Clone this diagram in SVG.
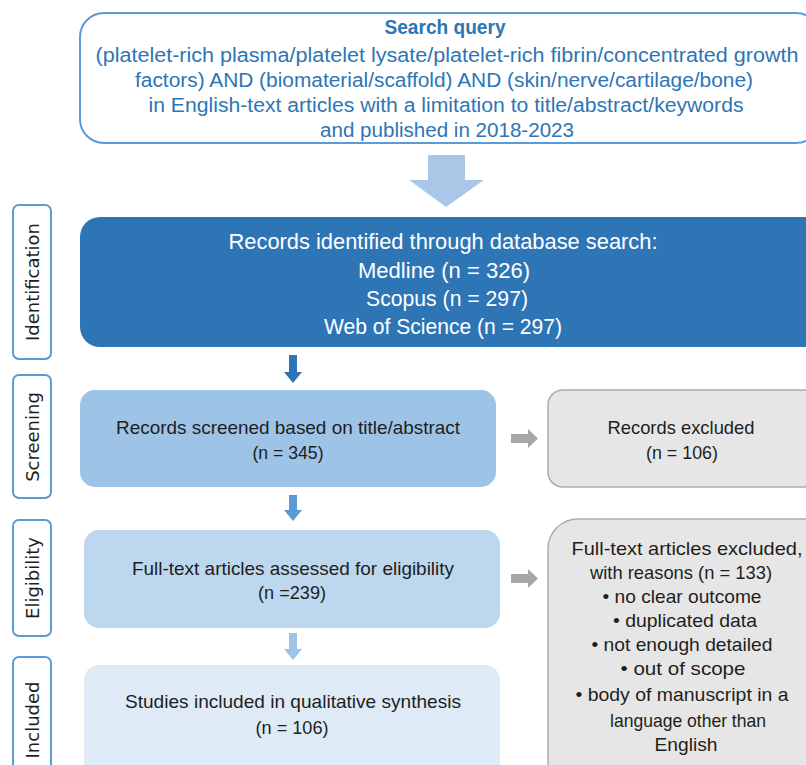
<svg xmlns="http://www.w3.org/2000/svg" width="806" height="765" viewBox="0 0 806 765">
<defs>
<style>
text{font-family:"Liberation Sans",Arial,sans-serif;text-anchor:middle}
.q{fill:#2E75B6;font-size:19.5px}
.w{fill:#ffffff;font-size:21.5px}
.d{fill:#1e1e1e;font-size:18.5px}
.lab{fill:#1e1e1e;font-size:18px;font-family:"DejaVu Sans",Verdana,sans-serif}
.lbox{fill:#ffffff;stroke:#5B9BD5;stroke-width:2}
.gbox{fill:#E7E6E6;stroke:#AEABAB;stroke-width:1.5}
</style>
</defs>
<rect width="806" height="765" fill="#ffffff"/>

<g id="label-identification">
<rect class="lbox" x="13" y="205" width="38" height="154" rx="6"/>
<text class="lab" transform="translate(38.5,282) rotate(-90)">Identification</text>
</g>
<g id="label-screening">
<rect class="lbox" x="13" y="375" width="38" height="123" rx="6"/>
<text class="lab" transform="translate(38.5,437) rotate(-90)">Screening</text>
</g>
<g id="label-eligibility">
<rect class="lbox" x="13" y="520" width="38" height="116" rx="6"/>
<text class="lab" transform="translate(38.5,578) rotate(-90)">Eligibility</text>
</g>
<g id="label-included">
<rect class="lbox" x="13" y="657" width="38" height="130" rx="6"/>
<text class="lab" transform="translate(38.5,720) rotate(-90)">Included</text>
</g>

<g id="search-query">
<rect x="80" y="13" width="740" height="130" rx="24" fill="#ffffff" stroke="#5B9BD5" stroke-width="2"/>
<text class="q" x="445" y="34" font-weight="bold" textLength="121" lengthAdjust="spacingAndGlyphs">Search query</text>
<text class="q" x="447" y="62" textLength="703" lengthAdjust="spacingAndGlyphs">(platelet-rich plasma/platelet lysate/platelet-rich fibrin/concentrated growth</text>
<text class="q" x="444" y="87" textLength="618" lengthAdjust="spacingAndGlyphs">factors) AND (biomaterial/scaffold) AND (skin/nerve/cartilage/bone)</text>
<text class="q" x="446" y="112" textLength="595" lengthAdjust="spacingAndGlyphs">in English-text articles with a limitation to title/abstract/keywords</text>
<text class="q" x="447" y="137" textLength="254" lengthAdjust="spacingAndGlyphs">and published in 2018-2023</text>
</g>

<g id="identification">
<rect x="80" y="217" width="745" height="130" rx="20" fill="#2E75B6"/>
<text class="w" x="443" y="249" textLength="429" lengthAdjust="spacingAndGlyphs">Records identified through database search:</text>
<text class="w" x="444" y="278" textLength="172" lengthAdjust="spacingAndGlyphs">Medline (n = 326)</text>
<text class="w" x="447" y="306" textLength="162" lengthAdjust="spacingAndGlyphs">Scopus (n = 297)</text>
<text class="w" x="443" y="334" textLength="238" lengthAdjust="spacingAndGlyphs">Web of Science (n = 297)</text>
</g>

<g id="screening">
<rect x="80" y="390" width="416" height="97" rx="15" fill="#9DC3E6"/>
<text class="d" x="288" y="434" textLength="344" lengthAdjust="spacingAndGlyphs">Records screened based on title/abstract</text>
<text class="d" x="288" y="459" textLength="71" lengthAdjust="spacingAndGlyphs">(n = 345)</text>
</g>

<g id="records-excluded">
<rect class="gbox" x="548" y="390" width="280" height="97" rx="15"/>
<text class="d" x="681" y="434" textLength="147" lengthAdjust="spacingAndGlyphs">Records excluded</text>
<text class="d" x="682" y="459" textLength="72" lengthAdjust="spacingAndGlyphs">(n = 106)</text>
</g>

<g id="eligibility">
<rect x="84" y="530" width="416" height="98" rx="15" fill="#BDD7EE"/>
<text class="d" x="293" y="575" textLength="322" lengthAdjust="spacingAndGlyphs">Full-text articles assessed for eligibility</text>
<text class="d" x="292" y="599" textLength="68" lengthAdjust="spacingAndGlyphs">(n =239)</text>
</g>

<g id="fulltext-excluded">
<rect class="gbox" x="548" y="519" width="290" height="280" rx="30"/>
<text class="d" x="687" y="555" textLength="231" lengthAdjust="spacingAndGlyphs">Full-text articles excluded,</text>
<text class="d" x="681" y="579" textLength="182" lengthAdjust="spacingAndGlyphs">with reasons (n = 133)</text>
<text class="d" x="682" y="603" textLength="159" lengthAdjust="spacingAndGlyphs">• no clear outcome</text>
<text class="d" x="685" y="627" textLength="144" lengthAdjust="spacingAndGlyphs">• duplicated data</text>
<text class="d" x="682" y="651" textLength="181" lengthAdjust="spacingAndGlyphs">• not enough detailed</text>
<text class="d" x="683" y="675" textLength="125" lengthAdjust="spacingAndGlyphs">• out of scope</text>
<text class="d" x="682" y="701" textLength="213" lengthAdjust="spacingAndGlyphs">• body of manuscript in a</text>
<text class="d" x="688" y="727" textLength="156" lengthAdjust="spacingAndGlyphs">language other than</text>
<text class="d" x="686" y="751" textLength="63" lengthAdjust="spacingAndGlyphs">English</text>
</g>

<g id="included">
<rect x="84" y="665" width="416" height="120" rx="15" fill="#DEEBF7"/>
<text class="d" x="293" y="708" textLength="336" lengthAdjust="spacingAndGlyphs">Studies included in qualitative synthesis</text>
<text class="d" x="292" y="734" textLength="73" lengthAdjust="spacingAndGlyphs">(n = 106)</text>
</g>

<g id="connectors">
<polygon points="428,155 465,155 465,180 484,180 446,207 409,180 428,180" fill="#A9C8E8"/>
<polygon points="289,355 297,355 297,372 302,372 293,383 284,372 289,372" fill="#2E75B6"/>
<polygon points="289,495 297,495 297,510 302,510 293,521 284,510 289,510" fill="#5B9BD5"/>
<polygon points="289,633 297,633 297,649 302,649 293,660 284,649 289,649" fill="#9DC3E6"/>
<polygon points="511,434 528,434 528,429 538,438.5 528,448 528,443 511,443" fill="#A9A6A6"/>
<polygon points="511,574 528,574 528,569 538,578.5 528,588 528,583 511,583" fill="#A9A6A6"/>
</g>
</svg>
